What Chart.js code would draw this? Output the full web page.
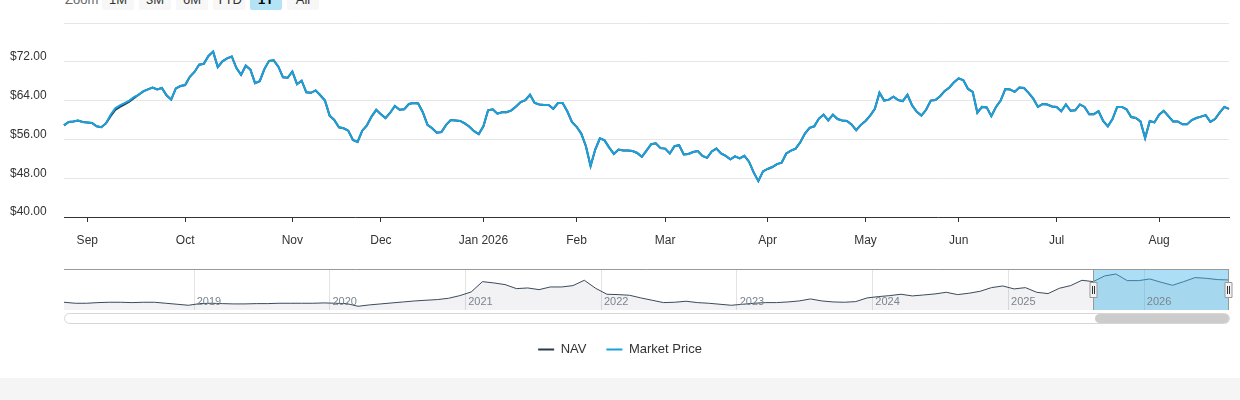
<!DOCTYPE html>
<html>
<head>
<meta charset="utf-8">
<script src="https://cdn.jsdelivr.net/npm/chart.js@4.4.1/dist/chart.umd.min.js"></script>
<style>
    html, body { margin: 0; padding: 0; background: #fff; }
    body { width: 1240px; height: 400px; position: relative; overflow: hidden; font-family: "Liberation Sans", Arial, sans-serif; }
    #main { position: absolute; left: 0; top: 0; width: 1240px; height: 375px; }
    #nav { position: absolute; left: 0; top: 260px; width: 1240px; height: 52px; }
    .zoom-label { position: absolute; left: 65px; top: -10px; line-height: 20px; font-size: 13px; color: #666; }
    .btn { position: absolute; top: -10px; width: 32px; height: 20px; line-height: 20px; text-align: center; font-size: 13px; color: #333; background: #f7f7f7; border-radius: 2px; }
    .btn.on { background: #b5e3f6; color: #000; font-weight: bold; }
    #track { position: absolute; left: 64px; top: 313px; width: 1164px; height: 9px; border: 1px solid #d6d6d6; border-radius: 6px; background: #fff; }
    #thumb { position: absolute; left: 1095px; top: 314px; width: 134px; height: 9px; border-radius: 5px; background: #cccccc; }
    #footer { position: absolute; left: 0; top: 378px; width: 1240px; height: 22px; background: #f5f5f5; }
</style>
</head>
<body>
<div class="zoom-label">Zoom</div>
<div class="btn" style="left:102px">1M</div>
<div class="btn" style="left:139px">3M</div>
<div class="btn" style="left:176px">6M</div>
<div class="btn" style="left:213px">YTD</div>
<div class="btn on" style="left:250px">1Y</div>
<div class="btn" style="left:287px">All</div>
<div id="main"><canvas id="priceChart"></canvas></div>
<div id="nav"><canvas id="navChart"></canvas></div>
<div id="track"></div>
<div id="thumb"></div>
<div id="footer"></div>
<script>
const firstDay = "2025-08-25";
const lastDay = "2026-08-24";
const holidays = [
    "2025-09-01", "2025-11-27", "2025-12-25", "2026-01-01", "2026-01-19",
    "2026-02-16", "2026-04-03", "2026-05-25", "2026-06-19", "2026-07-03",
];
const monthNames = ["Jan", "Feb", "Mar", "Apr", "May", "Jun", "Jul", "Aug", "Sep", "Oct", "Nov", "Dec"];

// one value per trading day
const marketPrice = [
    58.9, 59.6, 59.7, 59.9, 59.6, 59.5, 59.4, 58.7, 58.5, 59.3,
    61.1, 62.4, 63.0, 63.5, 64.0, 64.7, 65.2, 65.9, 66.3, 66.7,
    66.3, 66.6, 65.1, 64.2, 66.5, 67.0, 67.2, 68.9, 69.9, 71.4,
    71.6, 73.2, 74.1, 70.9, 72.1, 72.7, 73.1, 70.7, 69.3, 71.2,
    70.4, 67.6, 68.0, 70.5, 72.2, 72.3, 71.0, 68.8, 68.7, 70.0,
    67.4, 68.1, 65.7, 65.6, 66.1, 65.1, 64.0, 60.9, 60.0, 58.5,
    58.3, 57.8, 55.9, 55.5,
    57.8, 58.9, 60.7, 62.1, 61.2, 60.4, 61.5, 62.9, 62.1, 62.2,
    63.3, 63.5, 63.4, 61.6, 59.0, 58.3, 57.4, 57.5, 59.0, 60.0,
    59.9, 59.8, 59.3, 58.6, 57.7, 57.1, 58.7, 62.0, 62.2, 61.3,
    61.6, 61.6, 62.0, 62.8, 63.7, 64.1, 65.2, 63.5, 63.2, 63.1,
    63.1, 62.3, 63.5, 63.5, 61.8, 59.6, 58.6, 57.2, 54.6, 50.5,
    53.9, 56.2, 55.8, 54.3, 53.0, 53.9, 53.7, 53.7, 53.6, 53.2,
    52.4, 53.7, 55.0,
    55.2, 54.2, 54.1, 53.1, 54.6, 54.8, 52.9, 53.0, 53.4, 53.6,
    52.6, 52.2, 53.5, 54.1, 53.1, 52.6, 51.9, 52.5, 52.1, 52.6,
    51.4, 49.2, 47.4, 49.4, 49.9, 50.3, 50.9, 51.2, 53.1, 53.7,
    54.1, 55.4, 57.2, 58.4, 58.7, 60.3, 61.1, 59.9, 61.1, 60.2,
    59.9, 59.8, 59.1, 57.9, 59.0, 59.8, 60.9, 62.3, 65.6, 64.0,
    64.2, 64.8, 64.1, 63.9, 65.2, 63.0, 61.7, 60.9, 62.1, 64.0,
    64.1, 64.9, 66.0, 66.7,
    67.8, 68.6, 68.2, 66.4, 65.8, 61.5, 62.7, 62.6, 60.8, 62.7,
    64.0, 66.4, 66.3, 65.8, 66.7, 66.6, 65.6, 64.4, 62.7, 63.3,
    63.2, 62.8, 62.7, 61.8, 63.2, 61.9, 62.0, 63.2, 62.7, 61.2,
    61.2, 61.8, 59.8, 58.7, 60.2, 62.7, 62.7, 62.2, 60.6, 60.4,
    59.7, 56.3, 59.8, 59.5, 61.1, 61.9, 60.8, 59.7, 59.7, 59.1,
    59.1, 60.0, 60.4, 60.7, 61.0, 59.6, 60.2, 61.5, 62.7, 62.3,
];

const navPrice = [
    58.9, 59.6, 59.7, 59.9, 59.6, 59.5, 59.4, 58.7, 58.5, 59.3,
    60.8, 62.1, 62.7, 63.2, 63.8, 64.5, 65.2, 65.9, 66.3, 66.7,
    66.3, 66.6, 65.1, 64.2, 66.5, 67.0, 67.2, 68.9, 69.9, 71.4,
    71.6, 73.2, 74.1, 70.9, 72.1, 72.7, 73.1, 70.7, 69.3, 71.2,
    70.4, 67.6, 68.0, 70.5, 72.2, 72.3, 71.0, 68.8, 68.7, 70.0,
    67.4, 68.1, 65.7, 65.6, 66.1, 65.1, 64.0, 60.9, 60.0, 58.5,
    58.3, 57.8, 55.9, 55.5,
    57.8, 58.9, 60.7, 62.1, 61.2, 60.4, 61.5, 62.9, 62.1, 62.2,
    63.3, 63.5, 63.4, 61.6, 59.0, 58.3, 57.4, 57.5, 59.0, 60.0,
    59.9, 59.8, 59.3, 58.6, 57.7, 57.1, 58.7, 62.0, 62.2, 61.3,
    61.6, 61.6, 62.0, 62.8, 63.7, 64.1, 65.2, 63.5, 63.2, 63.1,
    63.1, 62.3, 63.5, 63.5, 61.8, 59.6, 58.6, 57.2, 54.6, 50.5,
    53.9, 56.2, 55.8, 54.3, 53.0, 53.9, 53.7, 53.7, 53.6, 53.2,
    52.4, 53.7, 55.0,
    55.2, 54.2, 54.1, 53.1, 54.6, 54.8, 52.9, 53.0, 53.4, 53.6,
    52.6, 52.2, 53.5, 54.1, 53.1, 52.6, 51.9, 52.5, 52.1, 52.6,
    51.4, 49.2, 47.4, 49.4, 49.9, 50.3, 50.9, 51.2, 53.1, 53.7,
    54.1, 55.4, 57.2, 58.4, 58.7, 60.3, 61.1, 59.9, 61.1, 60.2,
    59.9, 59.8, 59.1, 57.9, 59.0, 59.8, 60.9, 62.3, 65.6, 64.0,
    64.2, 64.8, 64.1, 63.9, 65.2, 63.0, 61.7, 60.9, 62.1, 64.0,
    64.1, 64.9, 66.0, 66.7,
    67.8, 68.6, 68.2, 66.4, 65.8, 61.5, 62.7, 62.6, 60.8, 62.7,
    64.0, 66.4, 66.3, 65.8, 66.7, 66.6, 65.6, 64.4, 62.7, 63.3,
    63.2, 62.8, 62.7, 61.8, 63.2, 61.9, 62.0, 63.2, 62.7, 61.2,
    61.2, 61.8, 59.8, 58.7, 60.2, 62.7, 62.7, 62.2, 60.6, 60.4,
    59.7, 56.3, 59.8, 59.5, 61.1, 61.9, 60.8, 59.7, 59.7, 59.1,
    59.1, 60.0, 60.4, 60.7, 61.0, 59.6, 60.2, 61.5, 62.7, 62.3,
];

const yTicks = [40, 48, 56, 64, 72, 80];

// navigator: one value per month, Jan 2018 .. Aug 2026
const navigatorValues = [
    16.4, 14.4, 14.4, 15.7, 16.4, 16.4, 15.7, 16.4, 16.4, 14.4, 12.4, 10.4,
    13.7, 14.4, 13.7, 13.1, 13.1, 13.7, 13.7, 14.4, 14.4, 14.4, 14.4, 15.1,
    14.4, 13.7, 8.4, 11.1, 13.1, 15.1, 17.0, 19.0, 20.4, 21.7, 24.3, 29.6,
    36.9, 57.4, 54.8, 51.5, 43.5, 44.8, 41.5, 46.8, 46.8, 49.5, 60.1, 44.2,
    32.3, 31.6, 30.3, 25.0, 20.4, 15.7, 16.4, 18.4, 15.7, 14.4, 12.4, 10.4,
    12.4, 14.4, 15.7, 15.7, 17.0, 19.0, 23.0, 19.0, 17.0, 16.4, 17.7, 25.0,
    27.6, 29.6, 32.3, 29.0, 30.9, 32.9, 36.2, 31.6, 34.3, 38.2, 45.5, 48.8,
    42.9, 45.5, 36.2, 33.6, 44.2, 49.5, 60.1, 57.4, 68.7, 72.6, 59.4, 59.4,
    62.7, 56.1, 50.1, 57.4, 65.4, 64.0, 61.4, 60.7,
];
const selectedFrom = "2025-08";

const tradingDays = () => {
    const out = [];
    const d = new Date(firstDay + "T00:00:00Z");
    const end = new Date(lastDay + "T00:00:00Z");
    while (d <= end) {
        const iso = d.toISOString().slice(0, 10);
        const wd = d.getUTCDay();
        if (wd !== 0 && wd !== 6 && !holidays.includes(iso)) out.push(iso);
        d.setUTCDate(d.getUTCDate() + 1);
    }
    return out;
};

const dates = tradingDays();

const navMonths = [];
for (let y = 2018; y <= 2026; y++) {
    for (let m = 1; m <= 12; m++) {
        if (y === 2026 && m > 8) break;
        navMonths.push(y + "-" + String(m).padStart(2, "0"));
    }
}

const isMonthStart = (i) => i > 0 && i < dates.length && dates[i].slice(5, 7) !== dates[i - 1].slice(5, 7);

const monthLabel = (i) => {
    if (!isMonthStart(i)) return "";
    const m = +dates[i].slice(5, 7);
    return m === 1 ? "Jan " + dates[i].slice(0, 4) : monthNames[m - 1];
};

Chart.defaults.font.family = '"Liberation Sans", Arial, sans-serif';
Chart.defaults.animation = false;

const priceChart = () => {
    const ctx = document.getElementById("priceChart");

    const data = {
        labels: dates,
        datasets: [
            {
                label: "NAV",
                data: navPrice,
                borderColor: "#2b3a4b",
                backgroundColor: "#2b3a4b",
                borderWidth: 2,
                pointRadius: 0,
                order: 2,
            },
            {
                label: "Market Price",
                data: marketPrice,
                borderColor: "#1aa0dc",
                backgroundColor: "#1aa0dc",
                borderWidth: 2,
                pointRadius: 0,
                order: 1,
            },
        ],
    };

    const config = {
        type: "line",
        data: data,
        options: {
            responsive: true,
            maintainAspectRatio: false,
            events: [],
            layout: { padding: { left: 10, right: 10, top: 23, bottom: 9 } },
            scales: {
                x: {
                    offset: false,
                    border: { color: "#333", width: 1 },
                    grid: {
                        drawOnChartArea: false,
                        tickLength: 5,
                        color: (c) => (isMonthStart(c.index) ? "#333" : "rgba(0,0,0,0)"),
                    },
                    ticks: {
                        autoSkip: false,
                        maxRotation: 0,
                        padding: 11,
                        color: "#333",
                        font: { size: 12 },
                        callback: (v, i) => monthLabel(i),
                    },
                    afterFit: (s) => { s.height = 106; },
                },
                y: {
                    min: 40,
                    max: 80,
                    afterBuildTicks: (s) => { s.ticks = yTicks.map((v) => ({ value: v })); },
                    border: { display: false },
                    grid: { color: "#e6e6e6", drawTicks: false },
                    ticks: {
                        crossAlign: "far",
                        labelOffset: -5,
                        color: "#333",
                        font: { size: 12 },
                        callback: (v) => (v === 80 ? "" : "$" + v.toFixed(2)),
                    },
                    afterFit: (s) => { s.width = 54; },
                },
            },
            plugins: {
                tooltip: { enabled: false },
                legend: {
                    position: "bottom",
                    labels: {
                        usePointStyle: true,
                        pointStyle: "line",
                        pointStyleWidth: 16,
                        padding: 20,
                        color: "#333",
                        font: { size: 13 },
                        sort: (a, b) => a.datasetIndex - b.datasetIndex,
                    },
                },
            },
        },
    };

    new Chart(ctx, config);
};

priceChart();

const navigatorChart = () => {
    const ctx = document.getElementById("navChart");
    const selIndex = navMonths.indexOf(selectedFrom);

    const selection = {
        id: "selection",
        afterDatasetsDraw(chart) {
            const { ctx, chartArea: a, scales } = chart;
            const x0 = scales.x.getPixelForValue(selIndex);
            ctx.save();
            ctx.fillStyle = "rgba(70,185,232,0.45)";
            ctx.fillRect(x0, a.top, a.right - x0, a.bottom - a.top);
            // year labels sit inside the navigator, just right of the year line
            ctx.fillStyle = "#7a8590";
            ctx.font = '11px "Liberation Sans", Arial, sans-serif';
            ctx.textBaseline = "middle";
            ctx.textAlign = "left";
            navMonths.forEach((m, i) => {
                if (i > 0 && m.endsWith("-01")) {
                    ctx.fillText(m.slice(0, 4), scales.x.getPixelForValue(i) - 3, a.bottom - 8);
                }
            });
            ctx.restore();
        },
        afterDraw(chart) {
            const { ctx, chartArea: a, scales } = chart;
            const x0 = Math.round(scales.x.getPixelForValue(selIndex)) + 0.5;
            const x1 = Math.round(a.right) - 0.5;
            ctx.save();
            ctx.strokeStyle = "#999";
            ctx.lineWidth = 1;
            ctx.beginPath();
            ctx.moveTo(a.left, a.top + 0.5);
            ctx.lineTo(a.right, a.top + 0.5);
            ctx.moveTo(x0, a.top);
            ctx.lineTo(x0, a.bottom);
            ctx.moveTo(x1, a.top);
            ctx.lineTo(x1, a.bottom);
            ctx.stroke();
            const mid = Math.round((a.top + a.bottom) / 2);
            [x0, x1].forEach((hx) => {
                ctx.fillStyle = "#f2f2f2";
                ctx.strokeStyle = "#999";
                ctx.beginPath();
                ctx.rect(hx - 3.5, mid - 7.5, 7, 15);
                ctx.fill();
                ctx.stroke();
                ctx.strokeStyle = "#333";
                ctx.beginPath();
                ctx.moveTo(hx - 1, mid - 4);
                ctx.lineTo(hx - 1, mid + 4);
                ctx.moveTo(hx + 1, mid - 4);
                ctx.lineTo(hx + 1, mid + 4);
                ctx.stroke();
            });
            ctx.restore();
        },
    };

    const config = {
        type: "line",
        data: {
            labels: navMonths,
            datasets: [
                {
                    label: "NAV",
                    data: navigatorValues,
                    borderColor: "#3b4a5c",
                    backgroundColor: "rgba(30,40,70,0.06)",
                    borderWidth: 1,
                    pointRadius: 0,
                    fill: "start",
                },
            ],
        },
        options: {
            responsive: true,
            maintainAspectRatio: false,
            events: [],
            layout: { padding: { left: 64, right: 11, top: 9, bottom: 2 } },
            scales: {
                x: {
                    offset: false,
                    border: { display: false },
                    grid: {
                        offset: true,
                        drawTicks: false,
                        color: (c) => {
                            const t = navMonths[c.index];
                            return t && t.endsWith("-01") ? "#e3e3e3" : "rgba(0,0,0,0)";
                        },
                    },
                    ticks: { display: false, autoSkip: false },
                    afterFit: (s) => { s.height = 0; },
                },
                y: { display: false, min: 1, max: 82.5 },
            },
            plugins: {
                legend: { display: false },
                tooltip: { enabled: false },
            },
        },
        plugins: [selection],
    };

    new Chart(ctx, config);
};

navigatorChart();
</script>
</body>
</html>
